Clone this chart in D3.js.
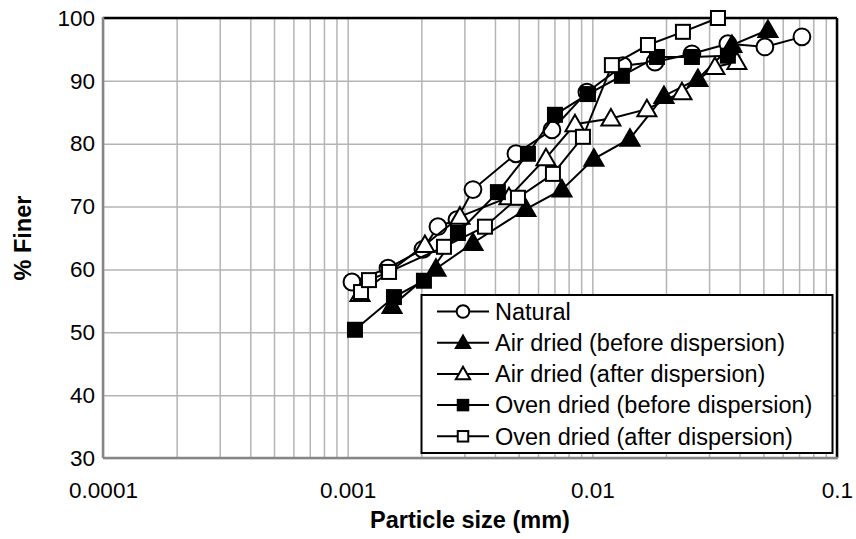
<!DOCTYPE html>
<html>
<head>
<meta charset="utf-8">
<script src="https://cdn.jsdelivr.net/npm/d3@7"></script>
<style>
  html, body { margin: 0; padding: 0; background: #fff; }
  svg { display: block; }
  text { font-family: "Liberation Sans", Arial, sans-serif; fill: #000; }
</style>
</head>
<body>
<svg id="chart" width="856" height="539"></svg>
<script>
// ---- data (particle size mm, % finer) ----
const naturalX = [0.001041, 0.001462, 0.002031, 0.002339, 0.002797, 0.003252, 0.004873, 0.006838, 0.009504, 0.01334, 0.01803, 0.02553, 0.03581, 0.05073, 0.07189];
const naturalY = [58.0, 60.2, 63.2, 66.8, 67.9, 72.7, 78.4, 82.2, 88.2, 92.4, 93.0, 94.3, 95.9, 95.4, 97.0];

const airBeforeX = [0.001518, 0.002296, 0.003252, 0.005353, 0.007512, 0.01015, 0.01425, 0.01962, 0.02701, 0.03720, 0.05219];
const airBeforeY = [54.2, 60.1, 64.2, 69.6, 72.7, 77.6, 80.8, 87.6, 90.3, 95.7, 98.1];

const airAfterX = [0.001123, 0.002069, 0.002877, 0.004562, 0.006463, 0.008490, 0.01191, 0.01671, 0.02324, 0.03170, 0.03899];
const airAfterY = [56.1, 63.9, 68.4, 71.5, 77.7, 83.1, 84.0, 85.5, 88.2, 92.2, 93.0];

const ovenBeforeX = [0.001071, 0.001546, 0.002050, 0.002823, 0.004112, 0.005455, 0.007035, 0.009594, 0.01321, 0.01837, 0.02553, 0.03581];
const ovenBeforeY = [50.4, 55.6, 58.2, 65.8, 72.3, 78.4, 84.6, 87.9, 90.8, 93.8, 93.8, 94.0];

const ovenAfterX = [0.001134, 0.001222, 0.001476, 0.002475, 0.003640, 0.004966, 0.006902, 0.009155, 0.01202, 0.01688, 0.02346, 0.03262];
const ovenAfterY = [56.4, 58.3, 59.6, 63.6, 66.8, 71.4, 75.2, 81.1, 92.5, 95.7, 97.8, 100.0];

const seriesNames = ["Natural", "Air dried (before dispersion)", "Air dried (after dispersion)", "Oven dried (before dispersion)", "Oven dried (after dispersion)"];
const seriesMarkers = ["circle", "triangle", "triangle", "square", "square"];
const seriesFilled = [false, true, false, true, false];

const xTickValues = [0.0001, 0.001, 0.01, 0.1];
const xTickLabels = ["0.0001", "0.001", "0.01", "0.1"];
const yTickValues = [30, 40, 50, 60, 70, 80, 90, 100];
const yTickLabels = ["30", "40", "50", "60", "70", "80", "90", "100"];
const xTitle = "Particle size (mm)";
const yTitle = "% Finer";

// ---- layout ----
const L = 103, R = 837, T = 18, B = 458;
const svg = d3.select("#chart");

const x = d3.scaleLog().domain([0.0001, 0.1]).range([L, R]);
const y = d3.scaleLinear().domain([30, 100]).range([B, T]);

// minor gridline values
const minorX = [];
[0.0001, 0.001, 0.01].forEach(dec => { for (let k = 1; k <= 9; k++) minorX.push(dec * k); });
minorX.push(0.1);

const grid = svg.append("g");
grid.append("g")
  .attr("transform", `translate(0,${B})`)
  .call(d3.axisBottom(x).tickValues(minorX).tickSize(-(B - T)).tickFormat(""))
  .call(g => g.select(".domain").remove())
  .call(g => g.selectAll("line").attr("stroke", "#b4b4b4").attr("stroke-width", 1.5));
grid.append("g")
  .attr("transform", `translate(${L},0)`)
  .call(d3.axisLeft(y).tickValues(yTickValues).tickSize(-(R - L)).tickFormat(""))
  .call(g => g.select(".domain").remove())
  .call(g => g.selectAll("line").attr("stroke", "#b4b4b4").attr("stroke-width", 1.5));

// plot border
svg.append("line").attr("x1", L).attr("x2", R).attr("y1", T).attr("y2", T).attr("stroke", "#000").attr("stroke-width", 2.5);
svg.append("line").attr("x1", R).attr("x2", R).attr("y1", T).attr("y2", B).attr("stroke", "#000").attr("stroke-width", 2.5);
svg.append("line").attr("x1", L).attr("x2", L).attr("y1", T - 1).attr("y2", B).attr("stroke", "#868686").attr("stroke-width", 2.5);
svg.append("line").attr("x1", L).attr("x2", R + 1).attr("y1", B).attr("y2", B).attr("stroke", "#868686").attr("stroke-width", 2.5);

// axes labels
const xAxis = svg.append("g")
  .attr("transform", `translate(0,${B})`)
  .call(d3.axisBottom(x).tickValues(xTickValues).tickSize(0).tickPadding(24)
    .tickFormat((d, i) => xTickLabels[i]));
xAxis.select(".domain").remove();
xAxis.selectAll("text").style("font-size", "22.5px").attr("fill", "#000");

const yAxis = svg.append("g")
  .attr("transform", `translate(${L},0)`)
  .call(d3.axisLeft(y).tickValues(yTickValues).tickSize(0).tickPadding(8)
    .tickFormat((d, i) => yTickLabels[i]));
yAxis.select(".domain").remove();
yAxis.selectAll("text").style("font-size", "22.5px").attr("fill", "#000");

svg.append("text").attr("x", (L + R) / 2).attr("y", 528)
  .attr("text-anchor", "middle").style("font-size", "23.5px").style("font-weight", "bold").text(xTitle);
svg.append("text").attr("transform", `translate(31,${(T + B) / 2}) rotate(-90)`)
  .attr("text-anchor", "middle").style("font-size", "23.5px").style("font-weight", "bold").text(yTitle);

// markers
function drawMarker(g, type, filled, cx, cy, s) {
  const fill = filled ? "#000" : "#fff";
  if (type === "circle") {
    g.append("circle").attr("cx", cx).attr("cy", cy).attr("r", 8.4 * s)
      .attr("fill", fill).attr("stroke", "#000").attr("stroke-width", 2);
  } else if (type === "square") {
    const h = 7 * s;
    g.append("rect").attr("x", cx - h).attr("y", cy - h).attr("width", 2 * h).attr("height", 2 * h)
      .attr("fill", fill).attr("stroke", "#000").attr("stroke-width", 2);
  } else {
    const w = 9.5 * s, hu = 9.5 * s, hd = 7 * s;
    g.append("path").attr("d", `M${cx},${cy - hu}L${cx + w},${cy + hd}L${cx - w},${cy + hd}Z`)
      .attr("fill", fill).attr("stroke", "#000").attr("stroke-width", 2).attr("stroke-linejoin", "miter");
  }
}

const seriesX = [naturalX, airBeforeX, airAfterX, ovenBeforeX, ovenAfterX];
const seriesY = [naturalY, airBeforeY, airAfterY, ovenBeforeY, ovenAfterY];
const line = d3.line().x(d => x(d[0])).y(d => y(d[1]));

seriesX.forEach((xs, si) => {
  const pts = xs.map((v, i) => [v, seriesY[si][i]]);
  const g = svg.append("g");
  g.append("path").attr("d", line(pts)).attr("fill", "none").attr("stroke", "#000").attr("stroke-width", 2);
  pts.forEach(p => drawMarker(g, seriesMarkers[si], seriesFilled[si], x(p[0]), y(p[1]), 1));
});

// legend
const lg = svg.append("g");
lg.append("rect").attr("x", 421.5).attr("y", 295).attr("width", 411).attr("height", 158)
  .attr("fill", "#fff").attr("stroke", "#000").attr("stroke-width", 2);
seriesNames.forEach((name, i) => {
  const cy = 311.5 + i * 31.2;
  lg.append("line").attr("x1", 437).attr("x2", 489).attr("y1", cy).attr("y2", cy)
    .attr("stroke", "#000").attr("stroke-width", 2);
  drawMarker(lg, seriesMarkers[i], seriesFilled[i], 463, cy, 0.75);
  lg.append("text").attr("x", 495).attr("y", cy).attr("dy", "0.35em")
    .style("font-size", "23.5px").text(name);
});
</script>
</body>
</html>
